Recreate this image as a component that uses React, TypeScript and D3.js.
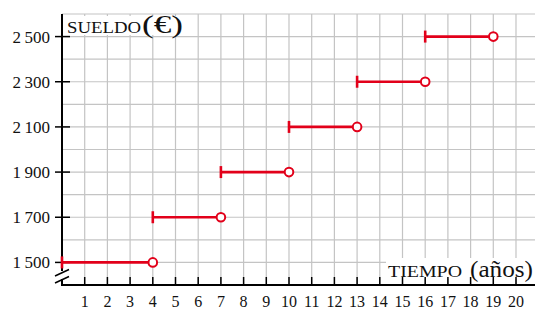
import React from 'react';
import * as d3 from 'd3';

// salary steps: [start, end) in years
const stepStart = [0, 4, 7, 10, 13, 16];
const stepEnd = [4, 7, 10, 13, 16, 19];
const salary = [1500, 1700, 1900, 2100, 2300, 2500];

const xTicks = d3.range(1, 21);
const yTicks = [1500, 1700, 1900, 2100, 2300, 2500];
const yTickLabels = ['1\u2009500', '1\u2009700', '1\u2009900', '2\u2009100', '2\u2009300', '2\u2009500'];

const W = 535;
const H = 309;
const RED = '#e2001a';
const FONT = 'Liberation Serif, DejaVu Serif, serif';

const App = () => {
  const x = d3.scaleLinear().domain([0, 20]).range([62, 516]);
  const y = d3.scaleLinear().domain([1400, 2600]).range([285, 14]);

  const gridX = d3.range(1, 22);
  const gridY = d3.range(1500, 2700, 100);
  const x0 = x(0);
  const yAxis = y(1400);

  return (
    <svg
      width={W}
      height={H}
      style={{ position: 'fixed', left: 0, top: 0, background: '#fff' }}
    >
      {/* grid */}
      <g stroke="#c4c4c4" strokeWidth={1.2}>
        {gridX.map((d) => (
          <line key={'gx' + d} x1={x(d)} x2={x(d)} y1={y(2600)} y2={yAxis} />
        ))}
        {gridY.map((d) => (
          <line key={'gy' + d} x1={x0} x2={W} y1={y(d)} y2={y(d)} />
        ))}
      </g>

      {/* label boxes */}
      <rect x={64} y={16} width={126} height={19} fill="#fff" />
      <rect x={386} y={258} width={149} height={21} fill="#fff" />

      <text fontFamily={FONT} fill="#111">
        <tspan x={67} y={33} fontSize={16} textLength={74} lengthAdjust="spacingAndGlyphs">SUELDO</tspan>
        <tspan x={142} y={33} fontSize={26} textLength={41} lengthAdjust="spacingAndGlyphs">(€)</tspan>
      </text>
      <text fontFamily={FONT} fill="#111">
        <tspan x={388} y={277} fontSize={16} textLength={74} lengthAdjust="spacingAndGlyphs">TIEMPO</tspan>
        <tspan x={470} y={277} fontSize={23} textLength={63} lengthAdjust="spacingAndGlyphs">(años)</tspan>
      </text>

      {/* x axis */}
      <line x1={x0 - 1} x2={W} y1={yAxis} y2={yAxis} stroke="#000" strokeWidth={2} />
      {xTicks.map((d) => (
        <g key={'xt' + d}>
          <line x1={x(d)} x2={x(d)} y1={yAxis - 8} y2={yAxis} stroke="#000" strokeWidth={1.5} />
          <text
            x={x(d)}
            y={307}
            textAnchor="middle"
            fontFamily={FONT}
            fontSize={16}
            fill="#111"
          >
            {d}
          </text>
        </g>
      ))}

      {/* y axis with break */}
      <line x1={x0} x2={x0} y1={y(2600)} y2={271} stroke="#000" strokeWidth={2} />
      <line x1={x0} x2={x0} y1={279} y2={yAxis} stroke="#000" strokeWidth={2} />
      <line x1={55} x2={69} y1={276} y2={269.5} stroke="#000" strokeWidth={1.5} />
      <line x1={55} x2={69} y1={283} y2={276.5} stroke="#000" strokeWidth={1.5} />
      {yTicks.map((d, i) => (
        <g key={'yt' + d}>
          <line x1={x0 - 7} x2={x0 + 8} y1={y(d)} y2={y(d)} stroke="#000" strokeWidth={1.5} />
          <text
            x={50}
            y={y(d)}
            dy="0.35em"
            textAnchor="end"
            fontFamily={FONT}
            fontSize={17}
            fill="#111"
          >
            {yTickLabels[i]}
          </text>
        </g>
      ))}

      {/* steps */}
      {salary.map((s, i) => (
        <g key={'s' + i} stroke={RED}>
          <line
            x1={x(stepStart[i])}
            x2={x(stepEnd[i]) - 4.5}
            y1={y(s)}
            y2={y(s)}
            strokeWidth={2.6}
          />
          <line
            x1={x(stepStart[i])}
            x2={x(stepStart[i])}
            y1={y(s) - 6}
            y2={y(s) + 6}
            strokeWidth={2.6}
          />
          <circle cx={x(stepEnd[i])} cy={y(s)} r={4.3} fill="#fff" strokeWidth={2} />
        </g>
      ))}
    </svg>
  );
};

export default App;
